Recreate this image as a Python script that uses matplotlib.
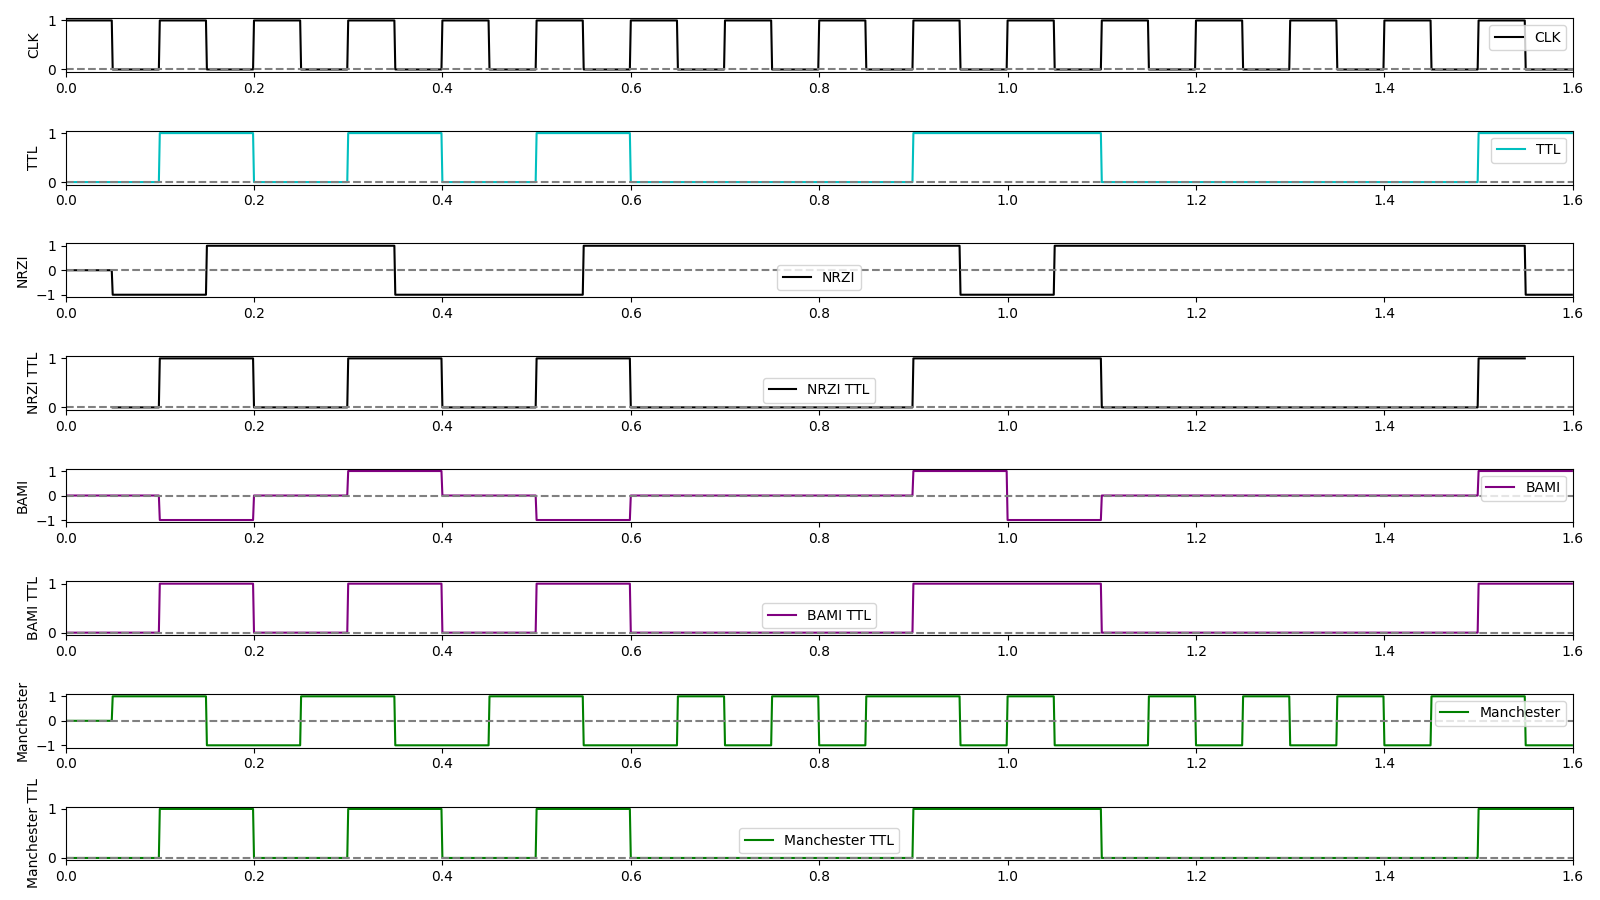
import numpy as np
import matplotlib
matplotlib.use("Agg")
import matplotlib.pyplot as plt

# signal levels, one value per half bit period (0.05 s), 32 half bits over 0..1.6 s
half_bit = 0.05
t_end = 1.6

clk = [1, 0] * 16
ttl = [0, 0, 1, 1, 0, 0, 1, 1, 0, 0, 1, 1, 0, 0, 0, 0,
       0, 0, 1, 1, 1, 1, 0, 0, 0, 0, 0, 0, 0, 0, 1, 1]
nrzi = [0, -1, -1, 1, 1, 1, 1, -1, -1, -1, -1, 1, 1, 1, 1, 1,
        1, 1, 1, -1, -1, 1, 1, 1, 1, 1, 1, 1, 1, 1, 1, -1]
nrzi_ttl = [None, 0, 1, 1, 0, 0, 1, 1, 0, 0, 1, 1, 0, 0, 0, 0,
            0, 0, 1, 1, 1, 1, 0, 0, 0, 0, 0, 0, 0, 0, 1, None]
bami = [0, 0, -1, -1, 0, 0, 1, 1, 0, 0, -1, -1, 0, 0, 0, 0,
        0, 0, 1, 1, -1, -1, 0, 0, 0, 0, 0, 0, 0, 0, 1, 1]
bami_ttl = ttl
manchester = [0, 1, 1, -1, -1, 1, 1, -1, -1, 1, 1, -1, -1, 1, -1, 1,
              -1, 1, 1, -1, 1, -1, -1, 1, -1, 1, -1, 1, -1, 1, 1, -1]
manchester_ttl = ttl

signals = [
    ("CLK", clk, "k"),
    ("TTL", ttl, "c"),
    ("NRZI", nrzi, "k"),
    ("NRZI TTL", nrzi_ttl, "k"),
    ("BAMI", bami, "purple"),
    ("BAMI TTL", bami_ttl, "purple"),
    ("Manchester", manchester, "g"),
    ("Manchester TTL", manchester_ttl, "g"),
]

# sample the half-bit levels on a fine time grid
dt = 0.001
t = np.arange(0, t_end, dt)
idx = np.minimum((t / half_bit + 1e-9).astype(int), 31)

fig, axes = plt.subplots(8, 1, figsize=(16, 9), dpi=100)
plt.subplots_adjust(left=0.041, right=0.983, top=0.98, bottom=0.044, hspace=1.09)

for ax, (name, levels, color) in zip(axes, signals):
    lv = np.array([np.nan if v is None else v for v in levels], dtype=float)
    y = lv[idx]
    ax.plot(t, y, color=color, lw=1.5, label=name)
    ax.plot([0, t_end], [0, 0], "--", color="gray", lw=1.5)
    ax.set_xlim(0, t_end)
    if np.nanmin(lv) < 0:
        ax.set_yticks([-1, 0, 1])
    else:
        ax.set_yticks([0, 1])
    ax.set_ylabel(name)
    ax.legend(loc="best")

fig.savefig("out.png")
